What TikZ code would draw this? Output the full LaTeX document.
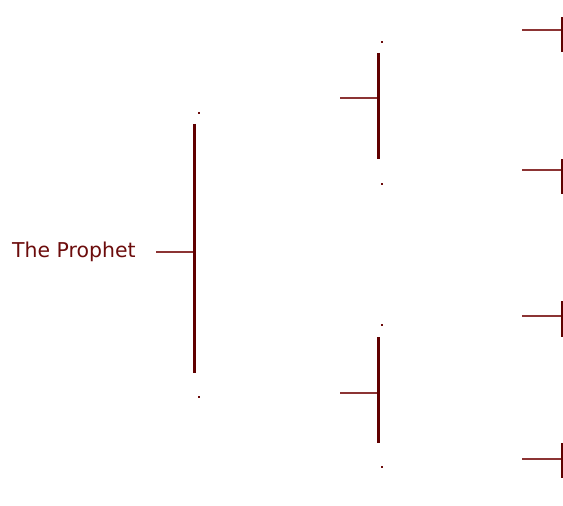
\documentclass[tikz,border=0pt]{standalone}
\usepackage{fontspec}
\setmainfont{DejaVu Sans}
\usetikzlibrary{positioning}
\definecolor{barred}{RGB}{96,0,0}
\definecolor{stubred}{RGB}{140,52,52}
\definecolor{labelred}{RGB}{108,12,12}
\tikzset{
  bar/.style={draw=barred, line width=3bp},
  stub/.style={draw=stubred, line width=2bp},
  dotmark/.style={fill=labelred, inner sep=0pt, minimum size=2.8bp},
}
\begin{document}
\begin{tikzpicture}[x=1bp,y=-1bp]
\useasboundingbox (0,0) rectangle (563,506);
\node[anchor=base west, inner sep=0pt, text=labelred, font=\fontsize{20.5}{24}\selectfont] (prophet) at (12,257) {The Prophet};
% root bracket
\coordinate (r-in) at (156,252);
\coordinate (r-mid) at (194.5,252);
\coordinate (r-top) at (194.5,124);
\coordinate (r-bot) at (194.5,373);
\draw[stub] (r-in) -- (r-mid);
\draw[bar] (r-top) -- (r-bot);
\node[dotmark] (a) at (199,113) {};
\node[dotmark] (b) at (199,397) {};
% second level
\foreach \n/\y/\t/\b in {a/98.5/53/159, b/392.5/337/443} {
  \coordinate (\n-in) at (340,\y);
  \coordinate (\n-mid) at (378.5,\y);
  \coordinate (\n-top) at (378.5,\t);
  \coordinate (\n-bot) at (378.5,\b);
  \draw[stub] (\n-in) -- (\n-mid);
  \draw[bar] (\n-top) -- (\n-bot);
}
\node[dotmark] (aa) at (382,42) {};
\node[dotmark] (ab) at (382,184) {};
\node[dotmark] (ba) at (382,325) {};
\node[dotmark] (bb) at (382,467) {};
% third level
\foreach \n/\y/\t/\b in {aa/30/17/52, ab/170/159/194, ba/316/301/337, bb/459/443/478} {
  \coordinate (\n-in) at (522,\y);
  \coordinate (\n-mid) at (562,\y);
  \coordinate (\n-top) at (562,\t);
  \coordinate (\n-bot) at (562,\b);
  \draw[stub] (\n-in) -- (\n-mid);
  \draw[bar] (\n-top) -- (\n-bot);
}
\end{tikzpicture}
\end{document}
